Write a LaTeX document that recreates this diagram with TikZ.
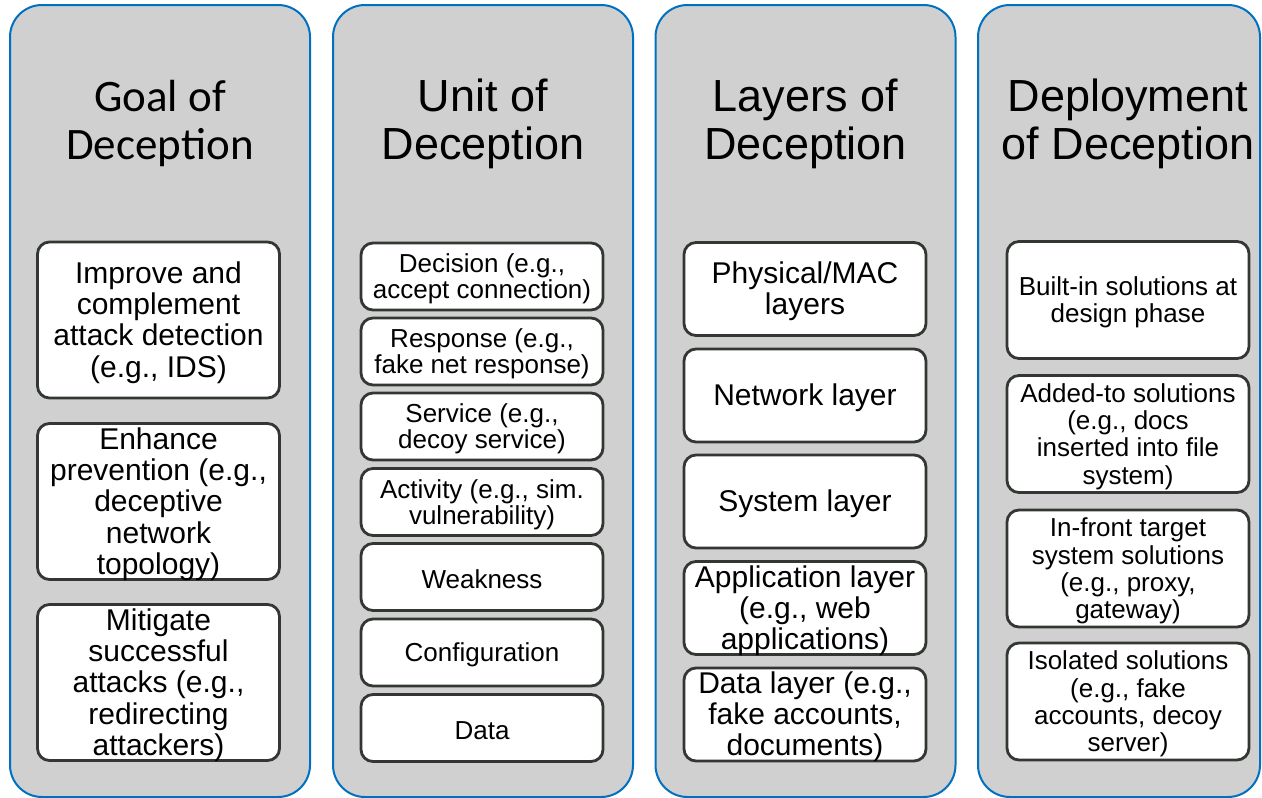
\documentclass[tikz,border=0pt]{standalone}
\usepackage{fontspec}
\setmainfont{Liberation Sans}
\newfontfamily\calibrifont{Carlito}
\definecolor{colfill}{RGB}{208,208,208}
\definecolor{colblue}{RGB}{0,112,192}
\definecolor{boxline}{RGB}{50,55,50}
% #1 node name, #2 box style, #3 position, #4 text
\newcommand{\itembox}[4]{%
  \node[#2] (#1) at #3 {};
  \node[#2 text] (#1-text) at ([yshift=-2.5]#1.center) {#4};
}
\begin{document}
\begin{tikzpicture}[x=1pt,y=-1pt,
  column/.style={draw=colblue, line width=2, fill=colfill, rounded corners=32,
    minimum width=300, minimum height=792, inner sep=0},
  title/.style={align=center, inner sep=0, font=\fontsize{45}{48}\selectfont},
  item/.style={draw=boxline, line width=2.8, fill=white, rounded corners=12,
    inner sep=0, minimum width=242},
  itemtext/.style={align=center, inner sep=0},
  goalbox/.style={item, minimum height=156},
  goalbox text/.style={itemtext, font=\fontsize{30}{31.3}\selectfont},
  unitbox/.style={item, minimum height=67},
  unitbox text/.style={itemtext, font=\fontsize{26}{26}\selectfont},
  layerbox/.style={item, minimum height=93},
  layerbox text/.style={itemtext, font=\fontsize{30}{30.8}\selectfont},
  deploybox/.style={item, minimum height=117},
  deploybox text/.style={itemtext, font=\fontsize{26}{27.3}\selectfont}]

\useasboundingbox (0,0) rectangle (1262,798);
\fill[white] (0,0) rectangle (1262,798);

% column backgrounds
\node[column] (c1) at (160,401) {};
\node[column] (c2) at (483,401) {};
\node[column] (c3) at (805.5,401) {};
\node[column, minimum width=282] (c4) at (1119,401) {};

% column headings
\node[title, font=\calibrifont\fontsize{45}{48}\selectfont] (t1) at (160,124) {Goal of\\Deception};
\node[title] (t2) at (483,124) {Unit of\\Deception};
\node[title] (t3) at (805.5,124) {Layers of\\Deception};
\node[title] (t4) at (1128,124) {Deployment\\of Deception};

% goals
\itembox{g1}{goalbox}{(158.5,320)}{Improve and\\complement\\attack detection\\(e.g., IDS)}
\itembox{g2}{goalbox}{(158.5,501.5)}{Enhance\\prevention (e.g.,\\deceptive\\network\\topology)}
\itembox{g3}{goalbox}{(158.5,682.5)}{Mitigate\\successful\\attacks (e.g.,\\redirecting\\attackers)}

% units
\itembox{u1}{unitbox}{(482,276.5)}{Decision (e.g.,\\accept connection)}
\itembox{u2}{unitbox}{(482,351.5)}{Response (e.g.,\\fake net response)}
\itembox{u3}{unitbox}{(482,426.5)}{Service (e.g.,\\decoy service)}
\itembox{u4}{unitbox}{(482,502)}{Activity (e.g., sim.\\vulnerability)}
\itembox{u5}{unitbox}{(482,577)}{Weakness}
\itembox{u6}{unitbox}{(482,652.5)}{Configuration}
\itembox{u7}{unitbox}{(482,728)}{Data}

% layers
\itembox{l1}{layerbox}{(805,289)}{Physical/MAC\\layers}
\itembox{l2}{layerbox}{(805,395.5)}{Network layer}
\itembox{l3}{layerbox}{(805,501.5)}{System layer}
\itembox{l4}{layerbox}{(805,608)}{Application layer\\(e.g., web\\applications)}
\itembox{l5}{layerbox}{(805,714.5)}{Data layer (e.g.,\\fake accounts,\\documents)}

% deployment
\itembox{d1}{deploybox}{(1128,300)}{Built-in solutions at\\design phase}
\itembox{d2}{deploybox}{(1128,434)}{Added-to solutions\\(e.g., docs\\inserted into file\\system)}
\itembox{d3}{deploybox}{(1128,568.5)}{In-front target\\system solutions\\(e.g., proxy,\\gateway)}
\itembox{d4}{deploybox}{(1128,701.5)}{Isolated solutions\\(e.g., fake\\accounts, decoy\\server)}
\end{tikzpicture}
\end{document}
